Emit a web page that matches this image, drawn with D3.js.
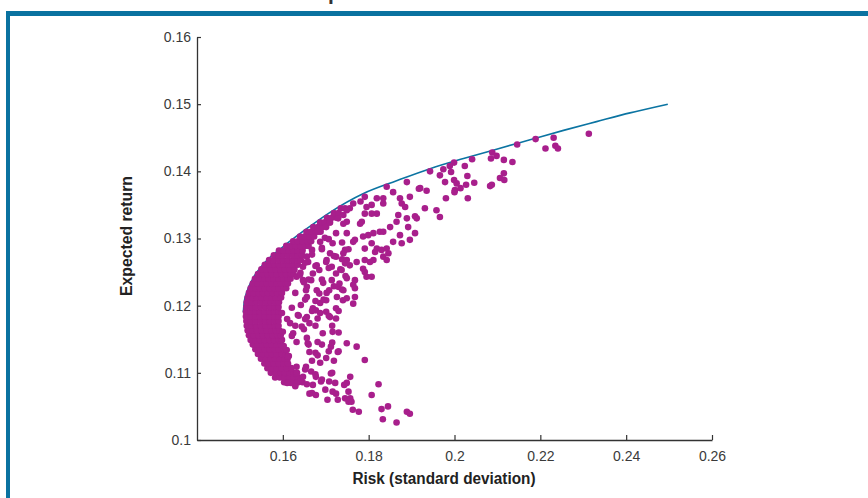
<!DOCTYPE html>
<html>
<head>
<meta charset="utf-8">
<script src="https://cdn.jsdelivr.net/npm/d3@7/dist/d3.min.js"></script>
<style>
  html, body { margin: 0; padding: 0; background: #ffffff; }
  svg { display: block; }
</style>
</head>
<body>
<svg id="chart" width="868" height="498"></svg>
<script>
// ---------------- data ----------------
const chartTitle = "Graph of the efficient frontier";
const xAxisTitle = "Risk (standard deviation)";
const yAxisTitle = "Expected return";

const xTicks = [0.16, 0.18, 0.2, 0.22, 0.24, 0.26];
const xTickLabels = ["0.16", "0.18", "0.2", "0.22", "0.24", "0.26"];
const yTicks = [0.1, 0.11, 0.12, 0.13, 0.14, 0.15, 0.16];
const yTickLabels = ["0.1", "0.11", "0.12", "0.13", "0.14", "0.15", "0.16"];

// efficient frontier (risk, return)
const frontierRisk   = [0.1508, 0.1510, 0.1516, 0.1530, 0.1555, 0.1601, 0.1650, 0.1710, 0.1788, 0.1865, 0.1943, 0.2021, 0.2098, 0.2176, 0.2254, 0.2331, 0.2409, 0.2497];
const frontierReturn = [0.1190, 0.1205, 0.1220, 0.1240, 0.1262, 0.1288, 0.1312, 0.1339, 0.1367, 0.1386, 0.1404, 0.1419, 0.1433, 0.1447, 0.1461, 0.1474, 0.1487, 0.1500];

// dense cluster of simulated portfolios, by return level: [return, [risks]]
const clusterRows = [
  [0.1086, [0.1603,0.1614,0.1625,0.1636,0.1646]],
  [0.1093, [0.1582,0.1593,0.1604,0.1615,0.1626,0.1636]],
  [0.1100, [0.1572,0.1583,0.1594,0.1605,0.1616,0.1626]],
  [0.1107, [0.1564,0.1575,0.1586,0.1597,0.1608,0.1620]],
  [0.1114, [0.1557,0.1568,0.1579,0.1590,0.1601,0.1612]],
  [0.1121, [0.1549,0.1560,0.1571,0.1582,0.1593,0.1604,0.1611]],
  [0.1128, [0.1542,0.1553,0.1564,0.1575,0.1586,0.1597,0.1606]],
  [0.1135, [0.1536,0.1547,0.1558,0.1569,0.1580,0.1591,0.1602]],
  [0.1142, [0.1530,0.1541,0.1552,0.1563,0.1574,0.1585,0.1596]],
  [0.1149, [0.1525,0.1536,0.1547,0.1558,0.1569,0.1580,0.1591,0.1598]],
  [0.1156, [0.1521,0.1532,0.1543,0.1554,0.1565,0.1576,0.1587,0.1595]],
  [0.1163, [0.1518,0.1529,0.1540,0.1551,0.1562,0.1573,0.1584,0.1592]],
  [0.1170, [0.1516,0.1527,0.1538,0.1549,0.1560,0.1571,0.1582,0.1590]],
  [0.1177, [0.1515,0.1526,0.1537,0.1548,0.1559,0.1570,0.1581,0.1590]],
  [0.1184, [0.1514,0.1525,0.1536,0.1547,0.1558,0.1569,0.1580,0.1590]],
  [0.1191, [0.1514,0.1525,0.1536,0.1547,0.1558,0.1569,0.1580,0.1590]],
  [0.1198, [0.1515,0.1526,0.1537,0.1548,0.1559,0.1570,0.1581,0.1590]],
  [0.1205, [0.1516,0.1527,0.1538,0.1549,0.1560,0.1571,0.1582,0.1591]],
  [0.1212, [0.1518,0.1529,0.1540,0.1551,0.1562,0.1573,0.1584,0.1596]],
  [0.1219, [0.1521,0.1532,0.1543,0.1554,0.1565,0.1576,0.1587,0.1598]],
  [0.1226, [0.1525,0.1536,0.1547,0.1558,0.1569,0.1580,0.1591,0.1602,0.1608]],
  [0.1233, [0.1530,0.1541,0.1552,0.1563,0.1574,0.1585,0.1596,0.1607,0.1612]],
  [0.1240, [0.1535,0.1546,0.1557,0.1568,0.1579,0.1590,0.1601,0.1612,0.1618]],
  [0.1247, [0.1542,0.1553,0.1564,0.1575,0.1586,0.1597,0.1608,0.1619,0.1625]],
  [0.1254, [0.1550,0.1561,0.1572,0.1583,0.1594,0.1605,0.1616,0.1627]],
  [0.1261, [0.1558,0.1569,0.1580,0.1591,0.1602,0.1613,0.1624,0.1635]],
  [0.1268, [0.1568,0.1579,0.1590,0.1601,0.1612,0.1623,0.1634,0.1642]],
  [0.1275, [0.1579,0.1590,0.1601,0.1612,0.1623,0.1634,0.1645]],
  [0.1282, [0.1591,0.1602,0.1613,0.1624,0.1635,0.1646]],
  [0.1289, [0.1608,0.1619,0.1630,0.1641,0.1652,0.1660]],
  [0.1296, [0.1624,0.1635,0.1646,0.1657,0.1666]],
  [0.1303, [0.1640,0.1651,0.1662,0.1673]],
  [0.1310, [0.1655,0.1666,0.1677,0.1688]],
  [0.1317, [0.1671,0.1682,0.1693]],
  [0.1324, [0.1687,0.1698,0.1709]],
  [0.1331, [0.1703,0.1714,0.1725]],
  [0.1338, [0.1719,0.1730]],
  [0.1345, [0.1735,0.1745]]
];

// scattered portfolios: [risk, return]
const scatterPoints = [
  [0.1772,0.1139],[0.1791,0.1119],[0.1749,0.1144],[0.1728,0.1131],[0.1757,0.1094],[0.1749,0.1085],[0.1753,0.1072],
  [0.1745,0.1062],[0.1757,0.1062],[0.1753,0.1057],[0.1760,0.1057],[0.1763,0.1045],[0.1777,0.1042],[0.1807,0.1067],
  [0.1823,0.1083],[0.1830,0.1046],[0.1845,0.1050],[0.1833,0.1031],[0.1865,0.1026],[0.1889,0.1042],[0.1896,0.1039],
  [0.1611,0.1124],[0.1631,0.1099],[0.1654,0.1109],[0.1662,0.1131],[0.1681,0.1126],[0.1701,0.1122],[0.1712,0.1139],
  [0.1658,0.1144],[0.1681,0.1146],[0.1716,0.1161],[0.1693,0.1159],[0.1724,0.1181],[0.1681,0.1181],[0.1662,0.1174],
  [0.1701,0.1191],[0.1724,0.1196],[0.1670,0.1196],[0.1666,0.1102],[0.1677,0.1094],[0.1689,0.1087],[0.1670,0.1082],
  [0.1662,0.1069],[0.1677,0.1067],[0.1708,0.1087],[0.1716,0.1072],[0.1724,0.1069],[0.1712,0.1099],[0.1743,0.1082],
  [0.1728,0.1060],[0.1704,0.1060],[0.1642,0.1089],[0.1631,0.1085],[0.1619,0.1085],
  [0.1635,0.1186],[0.1644,0.1169],[0.1617,0.1174],[0.1624,0.1159],[0.1600,0.1161],[0.1656,0.1152],[0.1632,0.1146],
  [0.1609,0.1134],[0.1656,0.1183],[0.1687,0.1204],[0.1632,0.1109],[0.1647,0.1094],
  [0.1710,0.1278],[0.1714,0.1258],[0.1702,0.1268],[0.1679,0.1260],[0.1670,0.1248],[0.1647,0.1258],[0.1714,0.1238],
  [0.1729,0.1228],[0.1726,0.1213],[0.1702,0.1219],[0.1679,0.1223],[0.1694,0.1234],[0.1656,0.1213],[0.1710,0.1183],
  [0.1687,0.1295],[0.1656,0.1273],[0.1632,0.1243],[0.1656,0.1228],[0.1647,0.1238],
  [0.1701,0.1317],[0.1724,0.1308],[0.1716,0.1293],[0.1724,0.1273],[0.1701,0.1265],[0.1685,0.1253],[0.1724,0.1248],
  [0.1732,0.1233],[0.1708,0.1223],[0.1740,0.1208],[0.1701,0.1208],[0.1685,0.1218],[0.1666,0.1238],[0.1654,0.1223],
  [0.1677,0.1193],[0.1642,0.1201],[0.1682,0.1310],[0.1698,0.1301],[0.1691,0.1286],[0.1668,0.1283],[0.1710,0.1324],
  [0.1729,0.1330],[0.1659,0.1265],[0.1640,0.1246],[0.1649,0.1235],
  [0.1707,0.1299],[0.1738,0.1294],[0.1691,0.1284],[0.1719,0.1274],[0.1738,0.1269],[0.1753,0.1284],[0.1668,0.1276],
  [0.1652,0.1264],[0.1676,0.1259],[0.1707,0.1256],[0.1734,0.1254],[0.1746,0.1244],[0.1691,0.1239],[0.1719,0.1229],
  [0.1738,0.1224],[0.1641,0.1249],[0.1660,0.1239],[0.1629,0.1219],[0.1652,0.1209],[0.1676,0.1207],[0.1695,0.1209],
  [0.1668,0.1192],[0.1687,0.1189],[0.1707,0.1185],[0.1730,0.1192],[0.1621,0.1197],[0.1637,0.1185],[0.1652,0.1180],
  [0.1629,0.1170],[0.1649,0.1165],[0.1676,0.1170],[0.1715,0.1170],[0.1730,0.1160],[0.1610,0.1180],[0.1598,0.1189],
  [0.1621,0.1155],[0.1602,0.1140],[0.1614,0.1125],[0.1660,0.1142],[0.1691,0.1142],[0.1715,0.1145],[0.1730,0.1132],
  [0.1707,0.1132],[0.1676,0.1130],[0.1668,0.1118],[0.1687,0.1115],[0.1719,0.1118],[0.1633,0.1100],[0.1652,0.1105],
  [0.1676,0.1098],[0.1691,0.1090],[0.1610,0.1085],[0.1629,0.1080],[0.1656,0.1083],[0.1668,0.1070],[0.1715,0.1100],
  [0.1722,0.1085],[0.1699,0.1075],
  [0.1889,0.1384],[0.1842,0.1377],[0.1857,0.1369],[0.1920,0.1375],[0.1935,0.1371],[0.1896,0.1362],[0.1978,0.1384],
  [0.2001,0.1372],[0.1980,0.1360],[0.1931,0.1345],[0.1958,0.1342],[0.1966,0.1332],[0.1908,0.1333],[0.1912,0.1330],
  [0.1889,0.1330],[0.1869,0.1335],[0.1877,0.1352],[0.1885,0.1347],[0.1834,0.1360],[0.1834,0.1352],[0.1819,0.1360],
  [0.1807,0.1350],[0.1791,0.1362],[0.1764,0.1352],[0.1756,0.1345],[0.1749,0.1342],[0.1741,0.1335],[0.1819,0.1337],
  [0.1807,0.1337],[0.1795,0.1347],[0.1791,0.1337],[0.1749,0.1325],[0.1741,0.1322],[0.1784,0.1325],[0.1780,0.1322],
  [0.1850,0.1317],[0.1865,0.1325],[0.1892,0.1317],[0.1908,0.1308],[0.1896,0.1298],[0.1873,0.1305],[0.1877,0.1293],
  [0.1857,0.1295],[0.1826,0.1310],[0.1834,0.1310],[0.1811,0.1308],[0.1799,0.1305],[0.1787,0.1303],[0.1768,0.1298],
  [0.1764,0.1295],[0.1749,0.1308],[0.1791,0.1285],[0.1807,0.1293],[0.1819,0.1285],[0.1815,0.1280],[0.1830,0.1283],
  [0.1842,0.1285],[0.1834,0.1273],[0.1846,0.1278],[0.1842,0.1268],[0.1811,0.1268],[0.1803,0.1265],[0.1791,0.1268],
  [0.1787,0.1255],[0.1791,0.1250],[0.1795,0.1243],[0.1807,0.1243],[0.1772,0.1265],[0.1749,0.1268],[0.1756,0.1260],
  [0.1745,0.1263],[0.1737,0.1253],[0.1768,0.1238],[0.1764,0.1231],[0.1768,0.1226],[0.1749,0.1241],[0.1741,0.1223],
  [0.1749,0.1211],[0.1768,0.1213],[0.1764,0.1203],[0.1745,0.1283],[0.1741,0.1278],
  [0.2313,0.1456],[0.2231,0.1450],[0.2235,0.1438],[0.2241,0.1434],[0.2212,0.1434],[0.2189,0.1448],[0.2146,0.1440],
  [0.2088,0.1428],[0.2085,0.1419],[0.2098,0.1423],[0.2115,0.1417],[0.2135,0.1414],[0.2115,0.1397],[0.2106,0.1390],
  [0.2116,0.1387],[0.2087,0.1380],[0.2083,0.1378],[0.2041,0.1418],[0.2024,0.1408],[0.1999,0.1413],[0.1989,0.1408],
  [0.1992,0.1399],[0.1974,0.1403],[0.1966,0.1394],[0.2030,0.1393],[0.2046,0.1383],[0.2027,0.1380],[0.2014,0.1375],
  [0.1999,0.1387],[0.2005,0.1382],[0.2000,0.1369],[0.2031,0.1360],[0.1943,0.1400],[0.1917,0.1374],[0.1873,0.1360],
  [0.1781,0.1355]
];

// ---------------- drawing ----------------
const W = 868, H = 498;
const svg = d3.select("#chart");
const frameColor = "#0a72a0";
const dotColor = "#a81f8c";
const axisColor = "#333333";

const x = d3.scaleLinear().domain([0.14, 0.26]).range([197, 712]);
const y = d3.scaleLinear().domain([0.1, 0.16]).range([440, 37]);

// frame
svg.append("rect").attr("x", 6).attr("y", 11).attr("width", W - 6).attr("height", 5).attr("fill", frameColor);
svg.append("rect").attr("x", 6).attr("y", 11).attr("width", 4).attr("height", H - 11).attr("fill", frameColor);

// title (cropped at the top edge, as in the reference)
svg.append("text")
  .attr("x", 437).attr("y", 0.2)
  .attr("text-anchor", "middle")
  .style("font-family", "'Liberation Sans', Arial, sans-serif")
  .style("font-weight", "bold")
  .style("font-size", "21px")
  .attr("fill", "#333")
  .text(chartTitle);

// axes
const xAxis = d3.axisBottom(x)
  .tickValues(xTicks)
  .tickFormat((d, i) => xTickLabels[i])
  .tickSizeInner(-5).tickSizeOuter(0).tickPadding(11);
const yAxis = d3.axisLeft(y)
  .tickValues(yTicks)
  .tickFormat((d, i) => yTickLabels[i])
  .tickSizeInner(-4).tickSizeOuter(0).tickPadding(6);

const gx = svg.append("g").attr("transform", "translate(0,440)").call(xAxis);
const gy = svg.append("g").attr("transform", "translate(197,0)").call(yAxis);

[gx, gy].forEach(g => {
  g.select(".domain").attr("stroke", axisColor).attr("stroke-width", 1.3);
  g.selectAll(".tick line").attr("stroke", axisColor).attr("stroke-width", 1.2);
  g.selectAll(".tick text")
    .attr("fill", "#3a3a3a")
    .style("font-family", "'Liberation Sans', Arial, sans-serif")
    .style("font-size", "14px");
});

// axis titles
svg.append("text")
  .attr("x", 444).attr("y", 484)
  .attr("text-anchor", "middle")
  .attr("textLength", 183).attr("lengthAdjust", "spacingAndGlyphs")
  .style("font-family", "'Liberation Sans Narrow', 'Arial Narrow', 'Liberation Sans', sans-serif")
  .style("font-weight", "bold")
  .style("font-size", "16px")
  .attr("fill", "#222")
  .text(xAxisTitle);

svg.append("text")
  .attr("transform", "translate(132,236) rotate(-90)")
  .attr("text-anchor", "middle")
  .attr("textLength", 120).attr("lengthAdjust", "spacingAndGlyphs")
  .style("font-family", "'Liberation Sans Narrow', 'Arial Narrow', 'Liberation Sans', sans-serif")
  .style("font-weight", "bold")
  .style("font-size", "16px")
  .attr("fill", "#222")
  .text(yAxisTitle);

// frontier line
const frontier = frontierRisk.map((r, i) => [r, frontierReturn[i]]);
svg.append("path")
  .datum(frontier)
  .attr("fill", "none")
  .attr("stroke", "#0b74a2")
  .attr("stroke-width", 1.6)
  .attr("d", d3.line().x(d => x(d[0])).y(d => y(d[1])).curve(d3.curveMonotoneX));

// portfolios
const points = clusterRows
  .flatMap(([ret, risks]) => risks.map(r => [r, ret]))
  .concat(scatterPoints);

svg.append("g")
  .selectAll("circle")
  .data(points)
  .join("circle")
  .attr("cx", d => x(d[0]))
  .attr("cy", d => y(d[1]))
  .attr("r", 3.3)
  .attr("fill", dotColor);
</script>
</body>
</html>
